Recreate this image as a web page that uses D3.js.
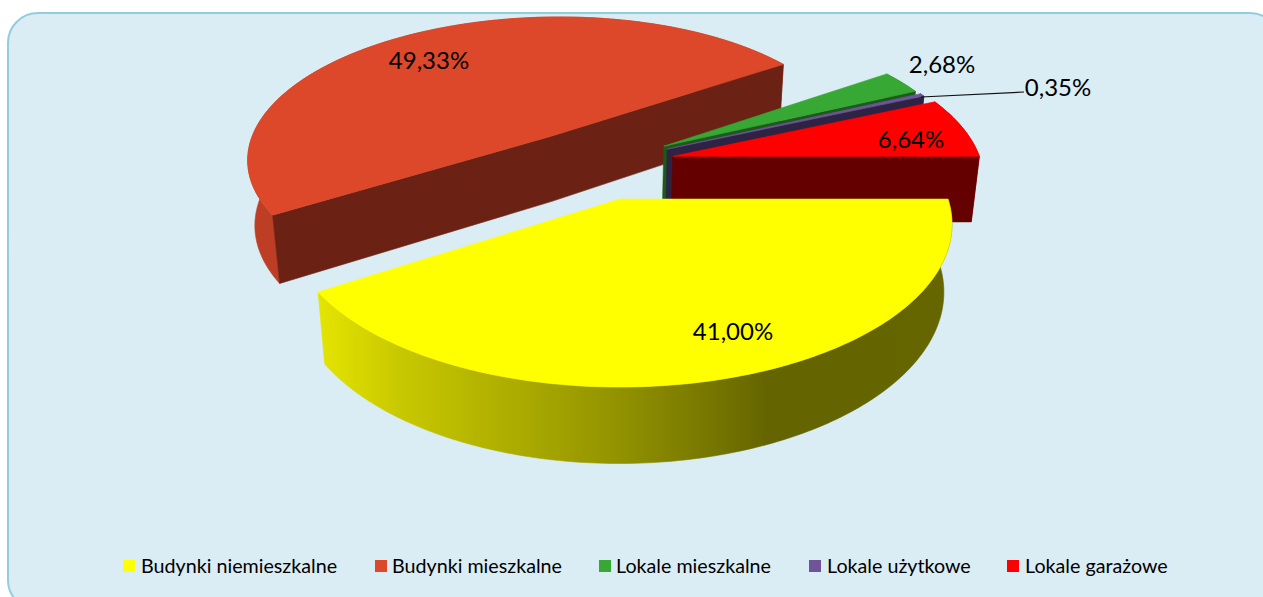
<!DOCTYPE html>
<html><head><meta charset="utf-8">
<style>html,body{margin:0;padding:0;background:#fff;overflow:hidden}svg{display:block}text{font-family:Lato,"Open Sans",sans-serif;fill:#000}</style>
<script src="https://d3js.org/d3.v7.min.js"></script></head><body>
<svg id="c" width="1263" height="597"></svg>
<script>
const categories = ["Budynki niemieszkalne","Budynki mieszkalne","Lokale mieszkalne","Lokale użytkowe","Lokale garażowe"];
const values = [41.00,49.33,2.68,0.35,6.64];
const valueLabels = ["41,00%","49,33%","2,68%","0,35%","6,64%"];
const topColors = ["#ffff00","#dc4829","#37a834","#6f5499","#ff0000"];
const faceColors = ["#666600","#6b2113","#1b5a1b","#2e2342","#650000"];
const wallColors = ["#999900","#bd3e24","#2c8a2a","#4f3c70","#b00000"];
const legendSwatchX = [123,375,599,809,1007];
const legendTextX = [141,392,616,827,1025];
const labelX = [733,429,942,1058,911];
const labelY = [330,59,63,86,138];
const sliceRadius = [1,.97,.955,.96,.975];
const sliceShiftX = [0,-.024,0,0,0];
const sliceShiftY = [0,.01,0,0,0];

const svg = d3.select("#c");
const defs = svg.append("defs");
const grad = defs.append("linearGradient").attr("id","yw").attr("gradientUnits","userSpaceOnUse")
  .attr("x1",320).attr("x2",955).attr("y1",0).attr("y2",0);
[[0,"#e4e400"],[.126,"#c8c800"],[.472,"#929200"],[.709,"#646400"],[1,"#666600"]].forEach(s=>grad.append("stop").attr("offset",s[0]).attr("stop-color",s[1]));

svg.append("rect").attr("x",8).attr("y",13).attr("width",1272).attr("height",597).attr("rx",30)
  .attr("fill","#daedf4").attr("stroke","#93cddd").attr("stroke-width",2);

const cx=620, y0=199, Rx=328, Rk=159, a=.154, h=68, vx=590, vy=3290, explode=.24, c0=[-.067,-.23];
function project(X,Y){
  const w=1/(1-a*Y);
  return [cx+Rx*X*w, y0+Rk*Y*w, w];
}
function bottom(p){
  const dx=vx-p[0], dy=vy-p[1], L=Math.hypot(dx,dy), t=h*Math.pow(p[2],.7);
  return [p[0]+dx/L*t, p[1]+dy/L*t];
}
const pie = d3.pie().sort(null).startAngle(Math.PI/2).endAngle(Math.PI/2+2*Math.PI).value(d=>d);
const arcs = pie(values);
const line = d3.line();
function pt(apex,th,r){return project(apex[0]+r*Math.sin(th),apex[1]-r*Math.cos(th));}

arcs.forEach((d,i)=>{
  const mid=(d.startAngle+d.endAngle)/2;
  d.apex=[c0[0]+explode*Math.sin(mid)+sliceShiftX[i], c0[1]-explode*Math.cos(mid)+sliceShiftY[i]];
  d.r=sliceRadius[i];
  const n=Math.max(4,Math.ceil((d.endAngle-d.startAngle)*60));
  d.rim=d3.range(n+1).map(k=>pt(d.apex,d.startAngle+(d.endAngle-d.startAngle)*k/n,d.r));
  d.ap=project(d.apex[0],d.apex[1]);
});

const g=svg.append("g");
[1,2,3,4,0].forEach(i=>{
  const d=arcs[i];
  const rimB=d.rim.map(bottom);
  const paint=(sel,c)=>sel.attr("fill",c).attr("stroke",c).attr("stroke-width",.6);
  paint(g.append("path").attr("d",line(d.rim.concat(rimB.slice().reverse()))+"Z"), i===0?"url(#yw)":wallColors[i]);
  if(i!==0){
    const e=d.rim[d.rim.length-1], s=d.rim[0];
    const upper = i===1 ? [s,d.ap,e] : [d.ap,e];
    const poly = upper.concat(upper.slice().reverse().map(bottom));
    paint(g.append("path").attr("d",line(poly)+"Z"),faceColors[i]);
  }
  paint(g.append("path").attr("d",line([d.ap].concat(d.rim))+"Z"),topColors[i]);
});

svg.append("line").attr("x1",921).attr("y1",97).attr("x2",1024).attr("y2",92).attr("stroke","#111").attr("stroke-width",1.2);

svg.selectAll(".lab").data(valueLabels).join("text").attr("class","lab")
  .attr("x",(d,i)=>labelX[i]).attr("y",(d,i)=>labelY[i]).attr("text-anchor","middle").attr("dominant-baseline","central")
  .attr("font-size",24).text(d=>d);

const lg=svg.append("g");
lg.selectAll("rect").data(categories).join("rect").attr("x",(d,i)=>legendSwatchX[i]).attr("y",560).attr("width",12).attr("height",12).attr("fill",(d,i)=>topColors[i]);
lg.selectAll("text").data(categories).join("text").attr("x",(d,i)=>legendTextX[i]).attr("y",573).attr("font-size",19.7).text(d=>d);
</script></body></html>
